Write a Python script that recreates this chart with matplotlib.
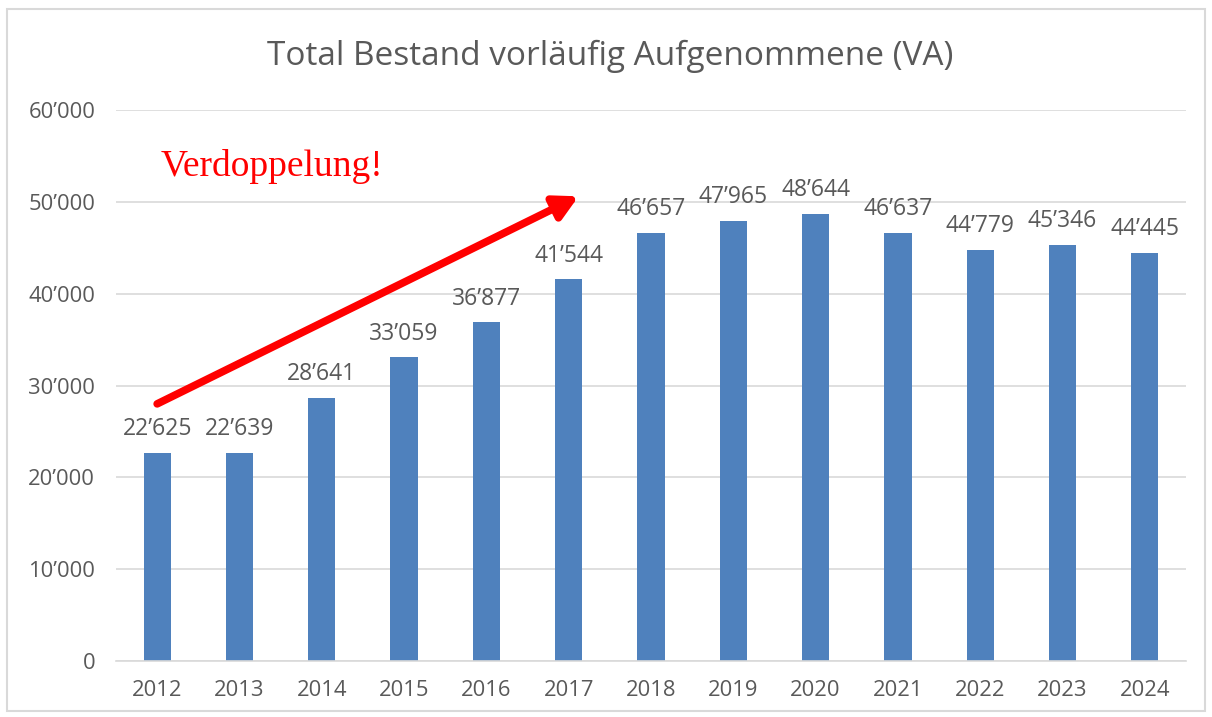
import matplotlib
matplotlib.use("Agg")
import matplotlib.pyplot as plt
from matplotlib.patches import Rectangle
from matplotlib.ticker import FuncFormatter

years = ["2012", "2013", "2014", "2015", "2016", "2017", "2018",
         "2019", "2020", "2021", "2022", "2023", "2024"]
values = [22625, 22639, 28641, 33059, 36877, 41544, 46657,
          47965, 48644, 46637, 44779, 45346, 44445]
title = "Total Bestand vorläufig Aufgenommene (VA)"
annotation = "Verdoppelung!"

BAR = "#4F81BD"
GRAY = "#595959"
GRID = "#D9D9D9"
FONT = ["Open Sans", "DejaVu Sans"]


def fmt(v):
    return f"{int(v):,}".replace(",", "\u2019")


fig = plt.figure(figsize=(12.12, 7.17), dpi=100)
fig.patches.append(Rectangle((7 / 1212, 1 - 711 / 717), 1198 / 1212, 702 / 717,
                             transform=fig.transFigure, fill=False,
                             edgecolor="#D9D9D9", linewidth=1.5))

ax = fig.add_axes([116 / 1212, 1 - 661 / 717, 1070 / 1212, 551 / 717])
x = list(range(len(years)))
ax.bar(x, values, width=0.33, color=BAR, zorder=2)
ax.set_xlim(-0.5, len(years) - 0.5)
ax.set_ylim(0, 60000)
ax.set_yticks(range(0, 60001, 10000))
ax.yaxis.set_major_formatter(FuncFormatter(lambda v, p: fmt(v)))
ax.set_xticks(x)
ax.set_xticklabels(years)
ax.grid(axis="y", color=GRID, linewidth=1.2, zorder=0)
for s in ["top", "right", "left"]:
    ax.spines[s].set_visible(False)
ax.spines["bottom"].set_color(GRID)
ax.spines["bottom"].set_linewidth(1.2)
ax.tick_params(axis="both", length=0, labelsize=15.8, labelcolor=GRAY)
ax.tick_params(axis="x", pad=14)
ax.tick_params(axis="y", pad=15)
for lab in ax.get_xticklabels() + ax.get_yticklabels():
    lab.set_family(FONT)

for xi, v in zip(x, values):
    ax.annotate(fmt(v), (xi, v), xytext=(0, 8.5), textcoords="offset points",
                ha="center", va="bottom", fontsize=16.5, color=GRAY, family=FONT)

fig.text(610 / 1212, 1 - 56 / 717, title, ha="center", va="center",
         fontsize=24, color=GRAY, family=FONT)

ax.annotate("", xy=(5.12, 50600), xytext=(0, 28000),
            arrowprops=dict(arrowstyle="-|>,head_length=1.4,head_width=0.75",
                            color="red", lw=5.5, shrinkA=0, shrinkB=0))
ax.text(0.04, 53800, annotation, ha="left", va="center", fontsize=27,
        color="red", family=["Liberation Serif", "DejaVu Serif"])

fig.savefig("out.png", dpi=100)
